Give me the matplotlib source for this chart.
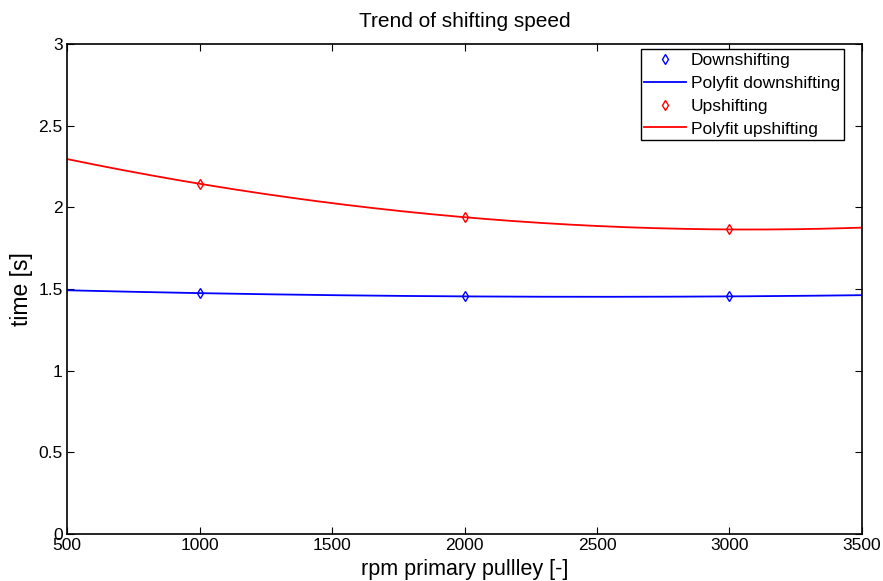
import numpy as np
import matplotlib
matplotlib.use('Agg')
import matplotlib.pyplot as plt

plt.rcParams['font.family'] = ['Liberation Sans', 'DejaVu Sans']

# measured points
rpm = [1000, 2000, 3000]
down_time = [1.475, 1.455, 1.455]
up_time = [2.145, 1.94, 1.865]

# quadratic polyfit, as in the original
x_fit = np.linspace(500, 3500, 200)
down_fit = np.polyval(np.polyfit(rpm, down_time, 2), x_fit)
up_fit = np.polyval(np.polyfit(rpm, up_time, 2), x_fit)

fig = plt.figure(figsize=(8.83, 5.81), dpi=100)
ax = fig.add_axes([0.0759, 0.081, 0.9003, 0.843])

ax.plot(rpm, down_time, 'bd', markerfacecolor='none', markersize=5, label='Downshifting')
ax.plot(x_fit, down_fit, 'b-', lw=1.3, label='Polyfit downshifting')
ax.plot(rpm, up_time, 'rd', markerfacecolor='none', markersize=5, label='Upshifting')
ax.plot(x_fit, up_fit, 'r-', lw=1.3, label='Polyfit upshifting')

ax.set_xlim(500, 3500)
ax.set_ylim(0, 3)
ax.set_xticks(np.arange(500, 3501, 500))
ax.set_yticks(np.arange(0, 3.01, 0.5))
ax.set_yticklabels(['0', '0.5', '1', '1.5', '2', '2.5', '3'])
ax.tick_params(direction='in', top=True, right=True, labelsize=12.5, length=5, pad=3)
for s in ax.spines.values():
    s.set_linewidth(1.2)

ax.set_xlabel('rpm primary pullley [-]', fontsize=15.5, labelpad=4)
ax.set_ylabel('time [s]', fontsize=16.5, labelpad=4)
ax.set_title('Trend of shifting speed', fontsize=15, pad=12)

leg = ax.legend(loc='upper right', bbox_to_anchor=(0.977, 0.99), fontsize=12.5,
                fancybox=False, framealpha=1, edgecolor='black', borderpad=0.2,
                labelspacing=0.45, handlelength=2.4, handletextpad=0.3, borderaxespad=0)
leg.get_frame().set_linewidth(1.0)

fig.savefig('out.png', dpi=100)
